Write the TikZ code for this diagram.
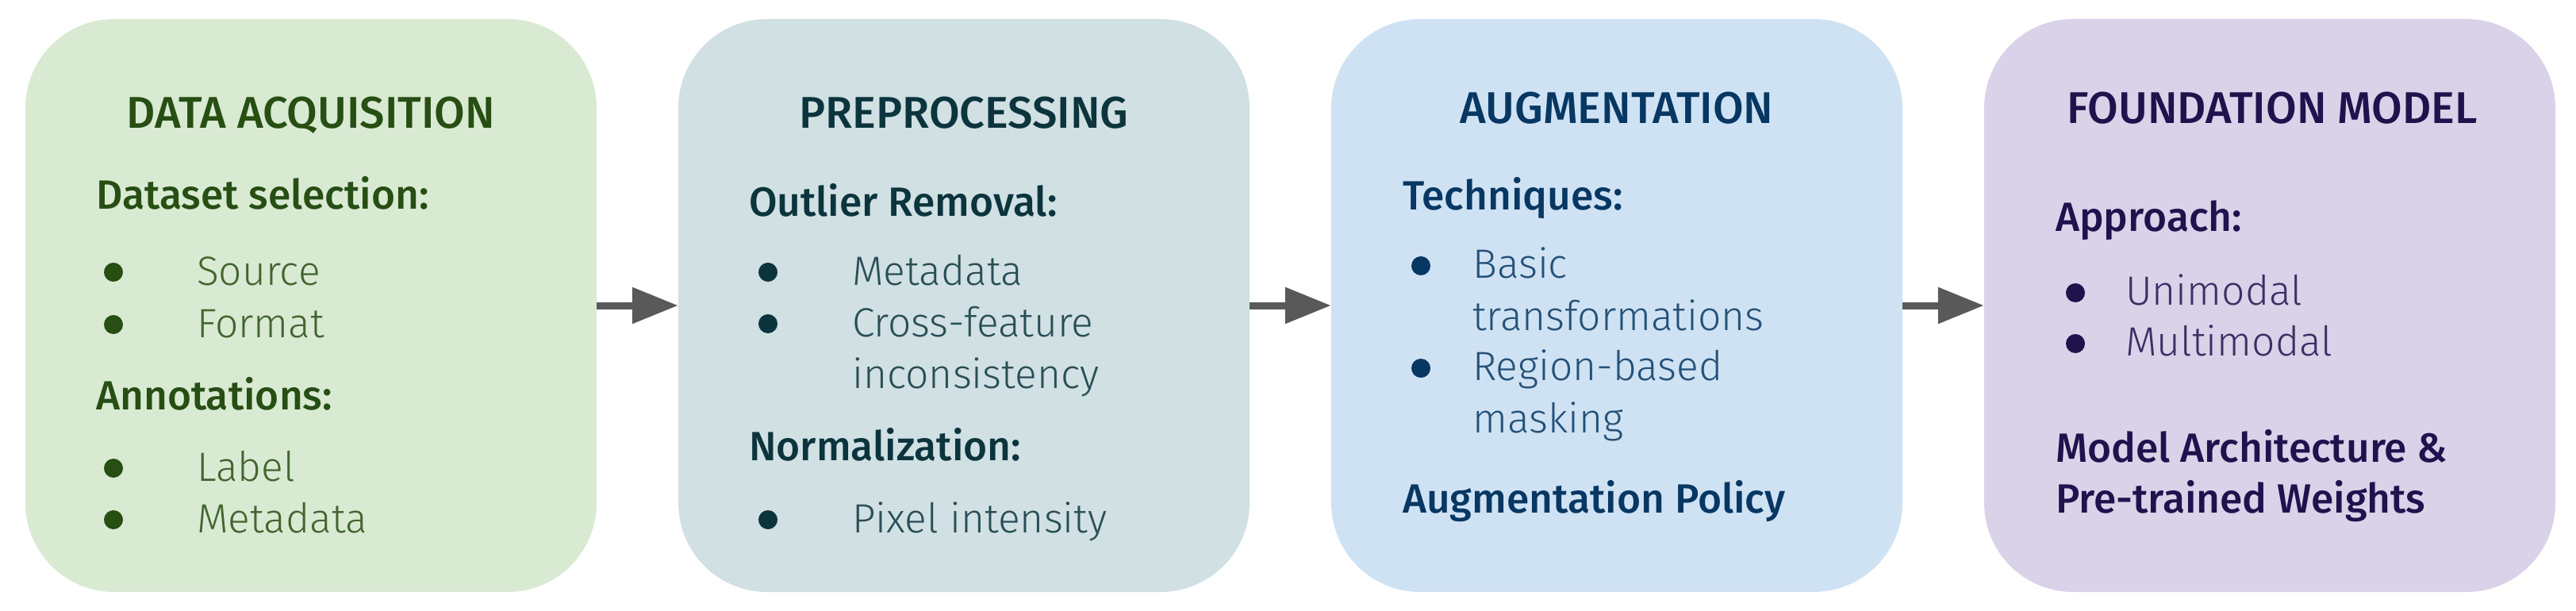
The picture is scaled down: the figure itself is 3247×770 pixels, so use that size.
\documentclass[tikz,border=0pt]{standalone}
\usepackage{fontspec}
\IfFontExistsTF{Fira Sans Light}{\newfontfamily\itemfam{Fira Sans Light}}{\IfFontExistsTF{Lato Light}{\newfontfamily\itemfam{Lato Light}}{\newfontfamily\itemfam{Fira Sans}}}
\IfFontExistsTF{Fira Sans Medium}{\newfontfamily\headfam{Fira Sans Medium}}{\IfFontExistsTF{Lato Medium}{\newfontfamily\headfam{Lato Medium}}{\newfontfamily\headfam{Fira Sans}[UprightFont={* Bold}]}}
\usetikzlibrary{arrows.meta}
\definecolor{gfill}{HTML}{D9EAD3}\definecolor{gtext}{HTML}{274E13}
\definecolor{cfill}{HTML}{D0E0E3}\definecolor{ctext}{HTML}{0C343D}
\definecolor{bfill}{HTML}{CFE2F3}\definecolor{btext}{HTML}{073763}
\definecolor{pfill}{HTML}{D9D2E9}\definecolor{ptext}{HTML}{20124D}
\definecolor{arrowgray}{HTML}{595959}
\begin{document}
\begin{tikzpicture}[x=1pt,y=-1pt,
  stagebox/.style={draw=none, rounded corners=112pt, minimum width=720pt, minimum height=722pt, inner sep=0pt},
  titletext/.style={anchor=base, inner sep=0pt, font=\fontsize{56}{66}\selectfont\headfam},
  subtext/.style={anchor=base west, inner sep=0pt, font=\fontsize{51.5}{60}\selectfont\headfam},
  itemtext/.style={anchor=base west, inner sep=0pt, font=\fontsize{51.5}{60}\selectfont\itemfam},
  bulletdot/.style={circle, inner sep=0pt, minimum size=24pt},
  flow/.style={draw=arrowgray, line width=9pt, -{Triangle[length=58pt,width=44pt]}}
]
\useasboundingbox (0,0) rectangle (3247,770);
% boxes
\node[stagebox, fill=gfill] (b1) at (392,385) {};
\node[stagebox, fill=cfill] (b2) at (1215,385) {};
\node[stagebox, fill=bfill] (b3) at (2038,385) {};
\node[stagebox, fill=pfill] (b4) at (2861,385) {};
% arrows
\draw[flow] (b1.east) -- (b2.west);
\draw[flow] (b2.east) -- (b3.west);
\draw[flow] (b3.east) -- (b4.west);
% box 1
\begin{scope}[text=gtext]
\node[titletext] (t1) at (392,162) {DATA ACQUISITION};
\node[subtext] (s1a) at (121,263) {Dataset selection:};
\node[bulletdot, fill=gtext] (d1a) at (143,343) {};
\node[itemtext, text=gtext!85!gfill] (i1a) at (248,359) {Source};
\node[bulletdot, fill=gtext] (d1b) at (143,409) {};
\node[itemtext, text=gtext!85!gfill] (i1b) at (248,425) {Format};
\node[subtext] (s1b) at (121,516) {Annotations:};
\node[bulletdot, fill=gtext] (d1c) at (143,590) {};
\node[itemtext, text=gtext!85!gfill] (i1c) at (248,606) {Label};
\node[bulletdot, fill=gtext] (d1d) at (143,655) {};
\node[itemtext, text=gtext!85!gfill] (i1d) at (248,671) {Metadata};
\end{scope}
% box 2
\begin{scope}[text=ctext]
\node[titletext] (t2) at (1215,162) {PREPROCESSING};
\node[subtext] (s2a) at (944,272) {Outlier Removal:};
\node[bulletdot, fill=ctext] (d2a) at (968,343) {};
\node[itemtext, text=ctext!85!cfill] (i2a) at (1074,359) {Metadata};
\node[bulletdot, fill=ctext] (d2b) at (968,408) {};
\node[itemtext, text=ctext!85!cfill] (i2b) at (1074,424) {Cross-feature};
\node[itemtext, text=ctext!85!cfill] (i2c) at (1074,489) {inconsistency};
\node[subtext] (s2b) at (944,580) {Normalization:};
\node[bulletdot, fill=ctext] (d2c) at (968,655) {};
\node[itemtext, text=ctext!85!cfill] (i2d) at (1074,671) {Pixel intensity};
\end{scope}
% box 3
\begin{scope}[text=btext]
\node[titletext] (t3) at (2038,156) {AUGMENTATION};
\node[subtext] (s3a) at (1768,264) {Techniques:};
\node[bulletdot, fill=btext] (d3a) at (1791,335) {};
\node[itemtext, text=btext!85!bfill] (i3a) at (1856,350) {Basic};
\node[itemtext, text=btext!85!bfill] (i3b) at (1856,416) {transformations};
\node[bulletdot, fill=btext] (d3b) at (1791,464) {};
\node[itemtext, text=btext!85!bfill] (i3c) at (1856,479) {Region-based};
\node[itemtext, text=btext!85!bfill] (i3d) at (1856,545) {masking};
\node[subtext] (s3b) at (1768,646) {Augmentation Policy};
\end{scope}
% box 4
\begin{scope}[text=ptext]
\node[titletext] (t4) at (2864,156) {FOUNDATION MODEL};
\node[subtext] (s4a) at (2591,291) {Approach:};
\node[bulletdot, fill=ptext] (d4a) at (2616,369) {};
\node[itemtext, text=ptext!85!pfill] (i4a) at (2679,384) {Unimodal};
\node[bulletdot, fill=ptext] (d4b) at (2616,433) {};
\node[itemtext, text=ptext!85!pfill] (i4b) at (2679,448) {Multimodal};
\node[subtext] (s4b) at (2591,582) {Model Architecture \&};
\node[subtext] (s4c) at (2591,646) {Pre-trained Weights};
\end{scope}
\end{tikzpicture}
\end{document}
